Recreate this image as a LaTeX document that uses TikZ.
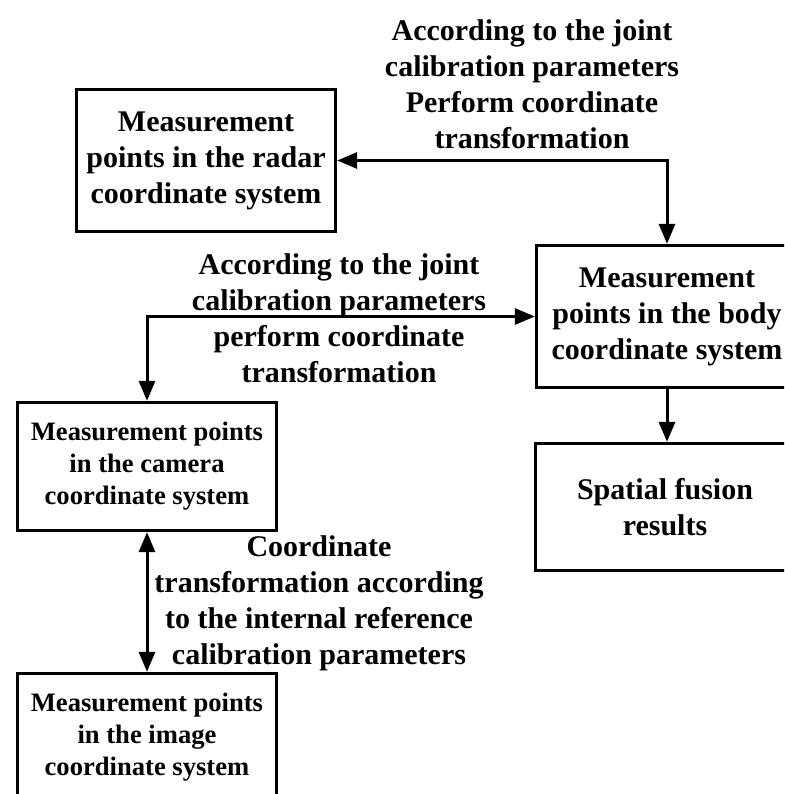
\documentclass[tikz,border=0pt]{standalone}
\usepackage{fontspec}
\setmainfont{Liberation Serif}
\usetikzlibrary{arrows.meta}
\begin{document}
\begin{tikzpicture}[x=1pt,y=-1pt,
  box/.style={draw, line width=3.3pt, align=center, inner sep=0pt, minimum width=259pt, font=\bfseries\fontsize{30}{36}\selectfont},
  smallbox/.style={box, font=\bfseries\fontsize{26.6}{32}\selectfont},
  lbl/.style={align=center, inner sep=0pt, font=\bfseries\fontsize{30}{36}\selectfont},
  tip/.tip={Triangle[length=20pt,width=16pt]},
  conn/.style={line width=3pt, -tip},
  dconn/.style={line width=3pt, tip-tip}
]
\useasboundingbox (0,0) rectangle (784,794);
\clip (0,0) rectangle (784,794);

\node[box, minimum height=142pt] (radar) at (206,160.5) {Measurement\\points in the radar\\coordinate system};
\node[box, minimum height=142pt, minimum width=261pt] (body) at (667,316.5) {Measurement\\points in the body\\coordinate system};
\node[smallbox, minimum height=128pt] (camera) at (147,466.5) {Measurement points\\in the camera\\coordinate system};
\node[box, minimum height=127pt] (fusion) at (665,507) {Spatial fusion\\results};
\node[smallbox, minimum height=128pt] (image) at (147,737.5) {Measurement points\\in the image\\coordinate system};

\node[lbl] (l1) at (532,84) {According to the joint\\calibration parameters\\Perform coordinate\\transformation};
\node[lbl] (l2) at (339,318) {According to the joint\\calibration parameters\\perform coordinate\\transformation};
\node[lbl] (l3) at (319,603) {Coordinate\\transformation according\\to the internal reference\\calibration parameters};

\draw[dconn] (radar.east) -| (body.north);
\draw[dconn] (camera.north) |- (body.west);
\draw[conn] (body.south) -- (body.south |- fusion.north);
\draw[dconn] (camera.south) -- (image.north);
\end{tikzpicture}
\end{document}
